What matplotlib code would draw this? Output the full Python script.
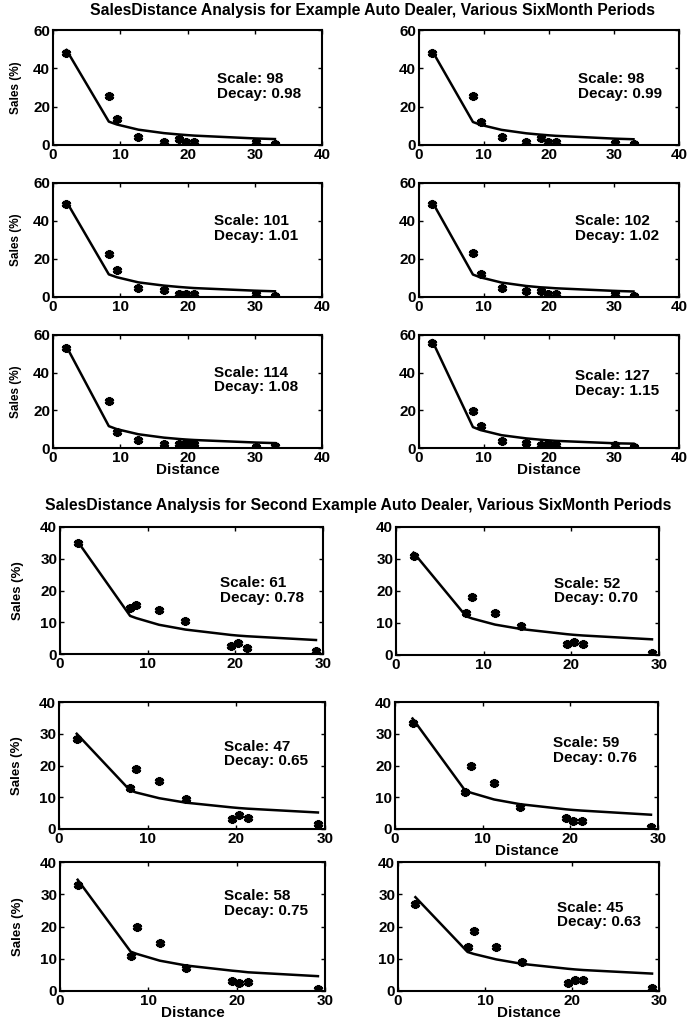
import matplotlib
matplotlib.use('Agg')
import matplotlib.pyplot as plt

plt.rcParams['font.family'] = ['Liberation Sans', 'DejaVu Sans']
plt.rcParams['font.weight'] = 'bold'

# first dealer: distances, observed sales share and fitted curve per period
dist_a = [2, 8.3, 9.5, 12.7, 16.5, 18.7, 19.8, 21, 30.2, 33]
sales_a = [
    [48, 25.5, 13.5, 4, 1.5, 3, 1.5, 1.5, 1.5, 0.5],
    [48, 25.5, 12, 4, 1.5, 3.5, 1.5, 1.5, 0.8, 0.3],
    [49, 22.5, 14, 5, 3.5, 1.5, 1.5, 1.5, 1.5, 0.5],
    [49, 23, 12, 5, 3, 3, 1.5, 1.5, 1.5, 0.5],
    [53, 25, 8.5, 4, 2, 2, 2.5, 2, 0.5, 1],
    [56, 19.5, 11.5, 3.5, 2.5, 1.5, 2, 1.5, 1.5, 0.5],
]
fit_a = [
    [49.6, 12.2, 10.7, 8.0, 6.2, 5.5, 5.2, 4.9, 3.4, 3.1],
    [49.3, 12.0, 10.5, 7.9, 6.1, 5.4, 5.1, 4.8, 3.3, 3.0],
    [50.2, 11.9, 10.4, 7.7, 6.0, 5.3, 5.0, 4.7, 3.3, 3.0],
    [50.3, 11.8, 10.3, 7.6, 5.8, 5.1, 4.9, 4.6, 3.2, 2.9],
    [53.9, 11.6, 10.0, 7.3, 5.5, 4.8, 4.5, 4.25, 2.9, 2.6],
    [57.2, 11.1, 9.5, 6.8, 5.1, 4.4, 4.1, 3.8, 2.5, 2.3],
]
scale_a = [98, 98, 101, 102, 114, 127]
decay_a = ['0.98', '0.99', '1.01', '1.02', '1.08', '1.15']

# second dealer
dist_b = [2, 8, 8.7, 11.3, 14.3, 19.5, 20.3, 21.3, 29.2]
sales_b = [
    [35, 14.5, 15.5, 14, 10.5, 2.5, 3.5, 2, 1],
    [31, 13, 18, 13, 9, 3.5, 4, 3.5, 0.5],
    [28.5, 13, 19, 15, 9.5, 3, 4.5, 3.5, 1.5],
    [33.5, 11.5, 20, 14.5, 7, 3.5, 2.5, 2.5, 0.5],
    [33, 11, 20, 15, 7, 3, 2.5, 2.8, 0.5],
    [27, 13.5, 18.5, 13.5, 9, 2.5, 3.5, 3.5, 1],
]
fit_b = [
    [35.5, 12.0, 11.3, 9.2, 7.7, 6.0, 5.8, 5.6, 4.4],
    [32.0, 12.1, 11.4, 9.5, 8.1, 6.5, 6.3, 6.1, 4.9],
    [30.0, 12.2, 11.5, 9.7, 8.3, 6.8, 6.6, 6.4, 5.2],
    [34.8, 12.1, 11.4, 9.3, 7.8, 6.2, 6.0, 5.8, 4.5],
    [34.5, 12.2, 11.5, 9.4, 7.9, 6.3, 6.1, 5.8, 4.6],
    [29.1, 12.1, 11.5, 9.8, 8.4, 6.9, 6.7, 6.5, 5.4],
]
scale_b = [61, 52, 47, 59, 58, 45]
decay_b = ['0.78', '0.70', '0.65', '0.76', '0.75', '0.63']

title_a = 'SalesDistance Analysis for Example Auto Dealer, Various SixMonth Periods'
title_b = 'SalesDistance Analysis for Second Example Auto Dealer, Various SixMonth Periods'

W, H = 692, 1029
fig = plt.figure(figsize=(W / 100, H / 100), dpi=100)

# axes boxes in pixels: left, right, top, bottom
boxes_a = [(53, 322, 30, 145), (419, 679, 30, 145),
           (53, 322, 183, 297), (419, 679, 183, 297),
           (53, 322, 335, 448), (419, 679, 335, 448)]
boxes_b = [(60, 323, 527, 654), (396, 659, 527, 655),
           (59, 325, 702, 829), (395, 658, 702, 829),
           (60, 325, 862, 991), (398, 659, 862, 991)]
text_pos_a = [(0.61, 0.51), (0.61, 0.51), (0.60, 0.60), (0.60, 0.60), (0.60, 0.60), (0.60, 0.57)]
text_pos_b = [(0.61, 0.50), (0.60, 0.50), (0.62, 0.59), (0.60, 0.62), (0.62, 0.68), (0.61, 0.59)]
xlab_a = [False, False, False, False, True, True]
xlab_b = [False, False, False, True, True, True]


def panel(box, d, s, f, sc, dc, tpos, xmax, xticks, ymax, yticks, ylab, xlab, ylx, ylsize):
    l, r, t, b = box
    ax = fig.add_axes([l / W, 1 - b / H, (r - l) / W, (b - t) / H])
    ax.plot(d, f, color='black', lw=1.8)
    ax.plot(d, s, ls='none', marker=(6, 2, 0), ms=6.5, mew=2.4, color='black')
    ax.set_xlim(0, xmax)
    ax.set_ylim(0, ymax)
    ax.set_xticks(xticks)
    ax.set_yticks(yticks)
    ax.tick_params(direction='in', top=True, right=True, length=3, width=1,
                   labelsize=11, pad=2)
    for sp in ax.spines.values():
        sp.set_linewidth(1.5)
    ax.text(tpos[0], tpos[1], 'Scale: %d\nDecay: %s' % (sc, dc), transform=ax.transAxes,
            fontsize=11, fontweight='bold', va='center', ha='left', linespacing=1.05)
    if ylab:
        ax.set_ylabel('Sales (%)', fontsize=ylsize, fontweight='bold')
        ax.yaxis.set_label_coords(ylx, 0.5)
    if xlab:
        ax.set_xlabel('Distance', fontsize=11, fontweight='bold', labelpad=-1)
    return ax


for i in range(6):
    panel(boxes_a[i], dist_a, sales_a[i], fit_a[i], scale_a[i], decay_a[i], text_pos_a[i],
          40, [0, 10, 20, 30, 40], 60, [0, 20, 40, 60], i % 2 == 0, xlab_a[i], -0.115, 8.5)
    panel(boxes_b[i], dist_b, sales_b[i], fit_b[i], scale_b[i], decay_b[i], text_pos_b[i],
          30, [0, 10, 20, 30], 40, [0, 10, 20, 30, 40], i % 2 == 0, xlab_b[i], -0.135, 9.5)

fig.text(372 / W, 1 - 11 / H, title_a, ha='center', va='center', fontsize=11.3, fontweight='bold')
fig.text(358 / W, 1 - 506 / H, title_b, ha='center', va='center', fontsize=11.3, fontweight='bold')

fig.savefig('out.png', dpi=100)
